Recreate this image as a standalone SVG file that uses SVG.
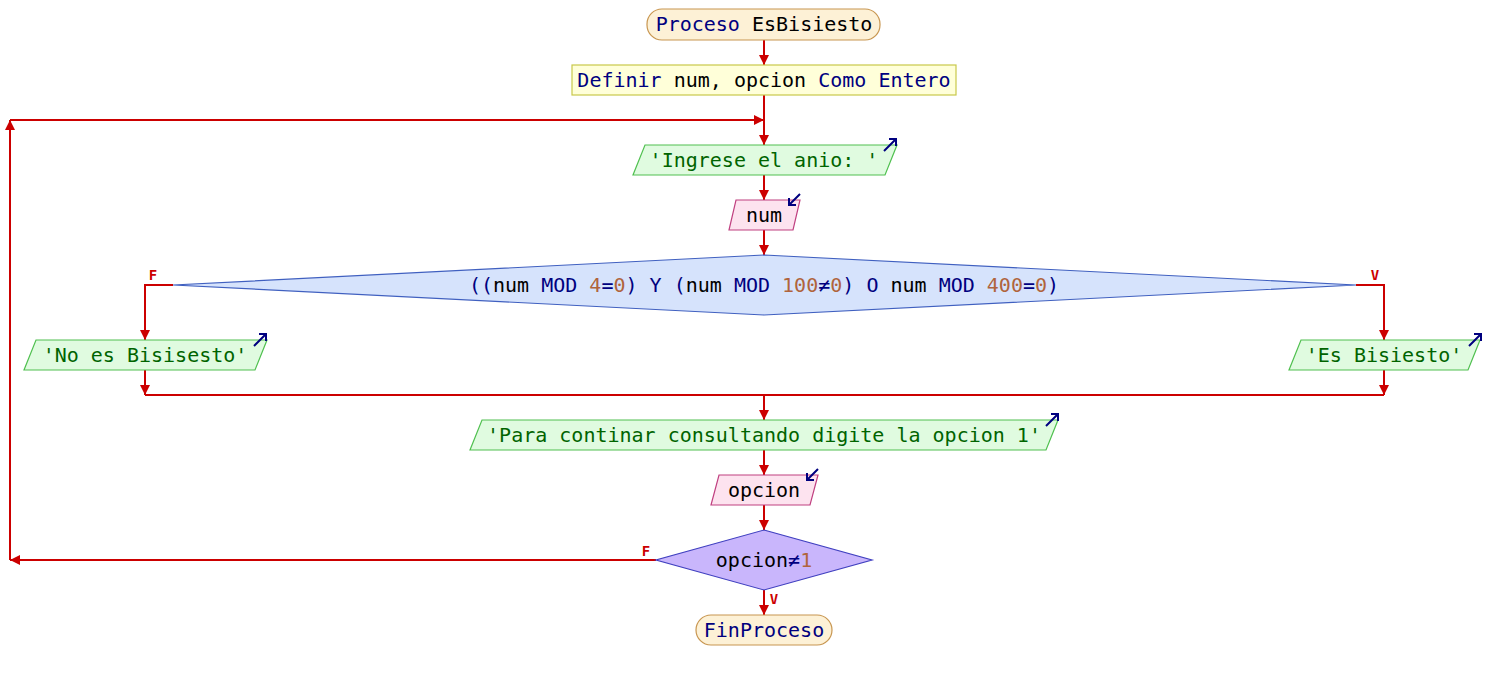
<svg xmlns="http://www.w3.org/2000/svg" width="1504" height="680" viewBox="0 0 1504 680">
<style>
text{font-family:"DejaVu Sans Mono","Liberation Mono",monospace;font-size:20px;text-anchor:middle;fill:#000}
.k{fill:#00007f}.s{fill:#006400}.n{fill:#b0643c}
.lbl{font-size:14px;font-weight:bold;fill:#cc0000}
.term{fill:#fdf1d6;stroke:#c89650;stroke-width:1.2}
.def{fill:#ffffd9;stroke:#c8c84a;stroke-width:1.2}
.out{fill:#e0fbe0;stroke:#50c050;stroke-width:1.2}
.in{fill:#fde3ef;stroke:#c04080;stroke-width:1.2}
.dec{fill:#d6e3fc;stroke:#4060c0;stroke-width:1.2}
.dec2{fill:#c9b6fc;stroke:#4040c0;stroke-width:1.2}
.ic{stroke:#00007f;stroke-width:2;fill:none}
.c{stroke:#cc0000;stroke-width:2;fill:none}
</style>
<defs>
<marker id="aw" viewBox="0 0 12 12" refX="12" refY="6" markerWidth="12" markerHeight="12" orient="auto" markerUnits="userSpaceOnUse">
<path d="M2,1 L12,6 L2,11 z" fill="#cc0000"/>
</marker>
<path id="icOut" class="ic" d="M0,12 L12,0 M5,0 H12 V7"/>
<path id="icIn" class="ic" d="M11,0 L0,11 M0,4 V11 H7"/>
</defs>
<g id="connectors">
<path class="c" d="M764,40 V65" marker-end="url(#aw)"/>
<path class="c" d="M764,95 V145" marker-end="url(#aw)"/>
<path class="c" d="M764,175 V200" marker-end="url(#aw)"/>
<path class="c" d="M764,230 V255" marker-end="url(#aw)"/>
<path class="c" d="M173,285 H145 V340" marker-end="url(#aw)"/>
<path class="c" d="M1356,285 H1384 V340" marker-end="url(#aw)"/>
<path class="c" d="M145,370 V395" marker-end="url(#aw)"/>
<path class="c" d="M1384,370 V395" marker-end="url(#aw)"/>
<path class="c" d="M145,395 H1384"/>
<path class="c" d="M764,395 V420" marker-end="url(#aw)"/>
<path class="c" d="M764,450 V475" marker-end="url(#aw)"/>
<path class="c" d="M764,505 V530" marker-end="url(#aw)"/>
<path class="c" d="M764,590 V615" marker-end="url(#aw)"/>
<path class="c" d="M656,560 H10" marker-end="url(#aw)"/>
<path class="c" d="M10,560 V120" marker-end="url(#aw)"/>
<path class="c" d="M10,120 H764" marker-end="url(#aw)"/>
<text class="lbl" x="153" y="280">F</text>
<text class="lbl" x="1375" y="280">V</text>
<text class="lbl" x="646" y="556">F</text>
<text class="lbl" x="774" y="604">V</text>
</g>
<g id="start">
<rect class="term" x="647" y="9" width="233" height="31" rx="15" ry="15"/>
<text x="764" y="31"><tspan class="k">Proceso</tspan> EsBisiesto</text>
</g>
<g id="definir">
<rect class="def" x="572" y="65" width="384" height="30"/>
<text x="764" y="87"><tspan class="k">Definir</tspan> num, opcion <tspan class="k">Como Entero</tspan></text>
</g>
<g id="escribir1">
<polygon class="out" points="645,145 897,145 885,175 633,175"/>
<text x="764" y="167" class="s">'Ingrese el anio: '</text>
<use href="#icOut" x="884" y="139"/>
</g>
<g id="leer1">
<polygon class="in" points="736,200 800,200 793,230 729,230"/>
<text x="764" y="222">num</text>
<use href="#icIn" x="789" y="194"/>
</g>
<g id="si1">
<polygon class="dec" points="764,255 1356,285 764,315 173,285"/>
<text x="764" y="292"><tspan class="k">((</tspan>num <tspan class="k">MOD</tspan> <tspan class="n">4</tspan><tspan class="k">=</tspan><tspan class="n">0</tspan><tspan class="k">)</tspan> <tspan class="k">Y</tspan> <tspan class="k">(</tspan>num <tspan class="k">MOD</tspan> <tspan class="n">100</tspan><tspan class="k">≠</tspan><tspan class="n">0</tspan><tspan class="k">)</tspan> <tspan class="k">O</tspan> num <tspan class="k">MOD</tspan> <tspan class="n">400</tspan><tspan class="k">=</tspan><tspan class="n">0</tspan><tspan class="k">)</tspan></text>
</g>
<g id="escribirNo">
<polygon class="out" points="36,340 267,340 255,370 24,370"/>
<text x="145" y="362" class="s">'No es Bisisesto'</text>
<use href="#icOut" x="254" y="334"/>
</g>
<g id="escribirSi">
<polygon class="out" points="1301,340 1480,340 1468,370 1289,370"/>
<text x="1384" y="362" class="s">'Es Bisiesto'</text>
<use href="#icOut" x="1469" y="334"/>
</g>
<g id="escribir2">
<polygon class="out" points="482,420 1058,420 1046,450 470,450"/>
<text x="764" y="442" class="s">'Para continar consultando digite la opcion 1'</text>
<use href="#icOut" x="1046" y="414"/>
</g>
<g id="leer2">
<polygon class="in" points="719,475 818,475 810,505 711,505"/>
<text x="764" y="497">opcion</text>
<use href="#icIn" x="807" y="469"/>
</g>
<g id="hasta">
<polygon class="dec2" points="764,530 872,560 764,590 656,560"/>
<text x="764" y="567">opcion<tspan class="k">≠</tspan><tspan class="n">1</tspan></text>
</g>
<g id="fin">
<rect class="term" x="696" y="615" width="136" height="30" rx="15" ry="15"/>
<text x="764" y="637" class="k">FinProceso</text>
</g>
</svg>
